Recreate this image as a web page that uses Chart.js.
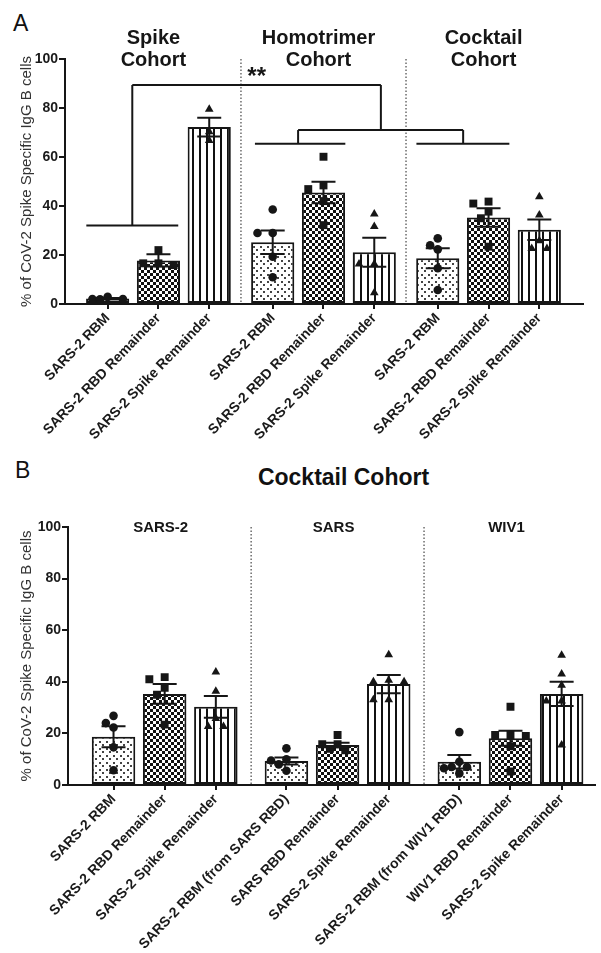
<!DOCTYPE html>
<html>
<head>
<meta charset="utf-8">
<script src="https://cdn.jsdelivr.net/npm/chart.js@4.4.0/dist/chart.umd.min.js"></script>
<style>
  body { margin: 0; background: #fff; width: 601px; height: 953px; position: relative; overflow: hidden;
         font-family: Arial, "Liberation Sans", sans-serif; color: #111; }
  canvas { position: absolute; left: 0; }
  #chartA { top: 0; }
  #chartB { top: 460px; }
  .letter { position: absolute; font-size: 23px; line-height: 1; }
  #titleB { position: absolute; left: 343.5px; top: 465.5px; transform: translateX(-50%);
            font-size: 23px; font-weight: bold; line-height: 1; white-space: nowrap; }
</style>
</head>
<body>
<div class="letter" style="left:13px;top:11.5px">A</div>
<div class="letter" style="left:15px;top:458.5px">B</div>
<div id="titleB">Cocktail Cohort</div>
<canvas id="chartA" width="601" height="460"></canvas>
<canvas id="chartB" width="601" height="493"></canvas>
<script>
// ---- data ----
const labelsA = ["SARS-2 RBM", "SARS-2 RBD Remainder", "SARS-2 Spike Remainder",
                 "SARS-2 RBM", "SARS-2 RBD Remainder", "SARS-2 Spike Remainder",
                 "SARS-2 RBM", "SARS-2 RBD Remainder", "SARS-2 Spike Remainder"];
const groupsA = [["Spike", "Cohort"], ["Homotrimer", "Cohort"], ["Cocktail", "Cohort"]];
const meansA = [2.2, 17.8, 72.2, 25.2, 45.5, 21.1, 18.7, 35.3, 30.3];
const semA = [0.3, 2.5, 3.8, 4.8, 4.4, 5.9, 4.1, 3.8, 4.2];
const pointsA = [
  [2.0, 2.9, 2.0, 1.9],
  [22.0, 16.6, 16.6, 15.9],
  [79.5, 70.3, 66.7],
  [38.6, 29.0, 29.0, 19.3, 10.9],
  [60.1, 48.4, 46.9, 42.0, 32.2],
  [36.7, 31.6, 16.3, 16.3, 4.6],
  [26.8, 24.0, 22.3, 14.6, 5.7],
  [41.8, 41.0, 37.7, 35.0, 23.4],
  [43.8, 36.3, 25.8, 22.7, 22.7]
];

const labelsB = ["SARS-2 RBM", "SARS-2 RBD Remainder", "SARS-2 Spike Remainder",
                 "SARS-2 RBM (from SARS RBD)", "SARS RBD Remainder", "SARS-2 Spike Remainder",
                 "SARS-2 RBM (from WIV1 RBD)", "WIV1 RBD Remainder", "SARS-2 Spike Remainder"];
const groupsB = [["SARS-2"], ["SARS"], ["WIV1"]];
const meansB = [18.7, 35.3, 30.3, 9.3, 15.5, 39.1, 9.0, 18.1, 35.3];
const semB = [4.1, 3.8, 4.2, 1.4, 0.9, 3.5, 2.6, 2.9, 4.7];
const pointsB = [
  [26.8, 24.0, 22.3, 14.6, 5.7],
  [41.8, 41.0, 37.7, 35.0, 23.4],
  [43.8, 36.3, 25.8, 22.7, 22.7],
  [14.2, 10.0, 9.5, 8.0, 5.5],
  [19.4, 15.8, 15.8, 14.0, 13.5],
  [50.5, 40.6, 40.0, 40.0, 33.0, 33.0],
  [20.5, 9.0, 7.0, 7.0, 6.5, 4.5],
  [30.3, 19.4, 19.4, 19.0, 15.0, 5.2],
  [50.3, 43.0, 38.7, 32.6, 32.6, 15.5]
];

const yTicks = [0, 20, 40, 60, 80, 100];

// ---- styling helpers ----
const FONT = 'Arial, "Liberation Sans", sans-serif';
const INK = '#161616';

function makePattern(kind) {
  const c = document.createElement('canvas');
  const ctx = c.getContext('2d');
  if (kind === 'dots') {
    c.width = 7; c.height = 7;
    ctx.fillStyle = '#fff'; ctx.fillRect(0, 0, 7, 7);
    ctx.fillStyle = '#444';
    ctx.fillRect(1, 1, 2, 2); ctx.fillRect(4, 4, 2, 2);
  } else if (kind === 'checks') {
    c.width = 6; c.height = 6;
    ctx.fillStyle = '#111'; ctx.fillRect(0, 0, 6, 6);
    ctx.fillStyle = '#fff'; ctx.fillRect(0, 0, 3, 3); ctx.fillRect(3, 3, 3, 3);
  } else {
    c.width = 7; c.height = 4;
    ctx.fillStyle = '#fff'; ctx.fillRect(0, 0, 7, 4);
    ctx.fillStyle = '#111'; ctx.fillRect(3, 0, 2, 4);
  }
  return ctx.createPattern(c, 'repeat');
}
const fills = [makePattern('dots'), makePattern('checks'), makePattern('stripes')];
const markers = ['circle', 'rect', 'triangle'];
const markerRadius = { circle: 4.3, rect: 5.6, triangle: 5 };

// bar x positions: 3 bars per group with a small gap between groups
function barPositions(n, gap) {
  return Array.from({ length: n }, (_, i) => Math.floor(i / 3) * (3 + gap) + (i % 3));
}

// simple beeswarm so overlapping dots sit side by side
function spreadPoints(values, pxX, pxY) {
  const d = 0.15, minDist = 8.5;
  const order = values.map((v, i) => i).sort((a, b) => values[b] - values[a]);
  const placed = [];
  const offsets = new Array(values.length).fill(0);
  const candidates = [0, -d, d, -2 * d, 2 * d];
  order.forEach(i => {
    let best = 0, bestDist = -1;
    for (const off of candidates) {
      let near = Infinity;
      placed.forEach(p => {
        near = Math.min(near, Math.hypot((off - p.off) * pxX, (values[i] - p.v) * pxY));
      });
      if (near >= minDist) { best = off; break; }
      if (near > bestDist) { bestDist = near; best = off; }
    }
    offsets[i] = best;
    placed.push({ off: best, v: values[i] });
  });
  return offsets;
}

// separators, error bars, brackets and titles
const decorPlugin = {
  id: 'decor',
  beforeDatasetsDraw(chart, args, opts) {
    const { ctx, scales: { x, y } } = chart;
    ctx.save();
    ctx.strokeStyle = '#555';
    ctx.lineWidth = 1.3;
    ctx.setLineDash([1.5, 2]);
    opts.separators.forEach(s => {
      const px = x.getPixelForValue(s);
      ctx.beginPath();
      ctx.moveTo(px, y.getPixelForValue(100));
      ctx.lineTo(px, y.getPixelForValue(0));
      ctx.stroke();
    });
    ctx.restore();
  },
  afterDatasetsDraw(chart, args, opts) {
    const { ctx, chartArea, scales: { x, y } } = chart;
    ctx.save();
    ctx.strokeStyle = INK;
    ctx.lineWidth = 2;
    // error bars (mean +/- SEM, caps on both ends)
    opts.positions.forEach((p, i) => {
      const cx = x.getPixelForValue(p);
      const top = y.getPixelForValue(opts.means[i] + opts.sem[i]);
      const bot = y.getPixelForValue(opts.means[i] - opts.sem[i]);
      ctx.beginPath();
      ctx.moveTo(cx, top); ctx.lineTo(cx, bot);
      ctx.moveTo(cx - 12, top); ctx.lineTo(cx + 12, top);
      ctx.moveTo(cx - 12, bot); ctx.lineTo(cx + 12, bot);
      ctx.stroke();
    });
    // significance brackets
    (opts.brackets || []).forEach(seg => {
      ctx.beginPath();
      ctx.moveTo(x.getPixelForValue(seg[0]), y.getPixelForValue(seg[1]));
      ctx.lineTo(x.getPixelForValue(seg[2]), y.getPixelForValue(seg[3]));
      ctx.stroke();
    });
    if (opts.stars) {
      ctx.fillStyle = INK;
      ctx.font = 'bold 24px ' + FONT;
      ctx.textAlign = 'left';
      ctx.textBaseline = 'alphabetic';
      ctx.fillText(opts.stars.text, x.getPixelForValue(opts.stars.x), y.getPixelForValue(opts.stars.y));
    }
    // group titles
    ctx.fillStyle = INK;
    ctx.font = 'bold ' + opts.titleSize + 'px ' + FONT;
    ctx.textAlign = 'center';
    ctx.textBaseline = 'alphabetic';
    opts.groups.forEach((lines, g) => {
      const cx = x.getPixelForValue(opts.positions[g * 3 + 1]) + opts.titleShift;
      lines.forEach((t, k) => {
        ctx.fillText(t, cx, chartArea.top + opts.titleTop + k * opts.titleLead);
      });
    });
    ctx.restore();
  }
};

function buildChart(canvasId, s) {
  const positions = barPositions(s.means.length, s.gap);
  const separators = [0, 1].map(g => (positions[g * 3 + 2] + positions[g * 3 + 3]) / 2);
  const dots = [];
  s.points.forEach((vals, i) => {
    const offs = spreadPoints(vals, s.pxX, s.pxY);
    vals.forEach((v, k) => dots.push({ x: positions[i] + offs[k], y: v, kind: markers[i % 3] }));
  });

  return new Chart(document.getElementById(canvasId), {
    type: 'bar',
    data: {
      datasets: [
        {
          type: 'scatter',
          data: dots,
          order: 0,
          pointStyle: c => c.raw ? c.raw.kind : 'circle',
          pointRadius: c => c.raw ? markerRadius[c.raw.kind] : 4,
          pointBackgroundColor: INK,
          pointBorderColor: INK,
          pointBorderWidth: 0
        },
        {
          type: 'bar',
          data: s.means.map((m, i) => ({ x: positions[i], y: m })),
          order: 1,
          backgroundColor: s.means.map((m, i) => fills[i % 3]),
          borderColor: INK,
          borderWidth: 2,
          borderSkipped: false,
          barPercentage: 1,
          categoryPercentage: 0.85
        }
      ]
    },
    options: {
      responsive: false,
      animation: false,
      devicePixelRatio: 1,
      layout: { padding: s.padding },
      plugins: {
        legend: { display: false },
        tooltip: { enabled: false },
        decor: {
          positions, separators, means: s.means, sem: s.sem, groups: s.groups,
          brackets: s.brackets, stars: s.stars,
          titleSize: s.titleSize, titleTop: s.titleTop, titleLead: s.titleLead, titleShift: s.titleShift
        }
      },
      scales: {
        x: {
          type: 'linear',
          offset: false,
          bounds: 'data',
          min: s.xMin,
          max: s.xMax,
          afterBuildTicks: axis => { axis.ticks = positions.map(v => ({ value: v })); },
          afterFit: axis => { axis.height = s.xAxisHeight; },
          border: { display: true, color: INK, width: 2 },
          grid: { display: true, offset: false, drawOnChartArea: false, drawTicks: true, tickLength: 5, color: INK, lineWidth: 2 },
          ticks: {
            autoSkip: false,
            minRotation: 46,
            maxRotation: 46,
            padding: 1,
            color: '#1a1a1a',
            font: { family: FONT, size: 14, weight: 'bold' },
            callback: (v, i) => s.labels[i]
          }
        },
        y: {
          min: 0,
          max: 100,
          afterBuildTicks: axis => { axis.ticks = yTicks.map(v => ({ value: v })); },
          afterFit: axis => { axis.width = s.yAxisWidth; },
          border: { display: true, color: INK, width: 2 },
          grid: { display: true, drawOnChartArea: false, drawTicks: true, tickLength: 6, color: INK, lineWidth: 2 },
          ticks: {
            padding: 1,
            color: '#1a1a1a',
            font: { family: FONT, size: 14, weight: 'bold' }
          },
          title: {
            display: true,
            text: '% of CoV-2 Spike Specific IgG B cells',
            color: '#333',
            font: { family: FONT, size: 15 },
            padding: { top: 18, bottom: 0 }
          }
        }
      }
    },
    plugins: [decorPlugin]
  });
}

// Panel A
buildChart('chartA', {
  labels: labelsA, groups: groupsA, means: meansA, sem: semA, points: pointsA,
  gap: 0.25, xMin: -0.84, xMax: 9.36, pxX: 50.8, pxY: 2.45,
  padding: { left: 0, right: 18, top: 59, bottom: 0 },
  yAxisWidth: 65, xAxisHeight: 156,
  titleSize: 20, titleTop: -14.7, titleLead: 22, titleShift: -5,
  brackets: [
    [-0.42, 32, 1.39, 32], [0.485, 32, 0.485, 89.4],
    [0.485, 89.4, 5.38, 89.4], [5.38, 89.4, 5.38, 71],
    [3.75, 71, 7.0, 71], [3.75, 71, 3.75, 65.4], [7.0, 71, 7.0, 65.4],
    [2.9, 65.4, 4.68, 65.4], [6.08, 65.4, 7.91, 65.4]
  ],
  stars: { text: '**', x: 2.75, y: 89.8 }
});

// Panel B
buildChart('chartB', {
  labels: labelsB, groups: groupsB, means: meansB, sem: semB, points: pointsB,
  gap: 0.38, xMin: -0.89, xMax: 9.42, pxX: 51.4, pxY: 2.58,
  padding: { left: 0, right: 3, top: 67, bottom: 0 },
  yAxisWidth: 68, xAxisHeight: 168,
  titleSize: 15, titleTop: 5, titleLead: 0, titleShift: -4
});
</script>
</body>
</html>
